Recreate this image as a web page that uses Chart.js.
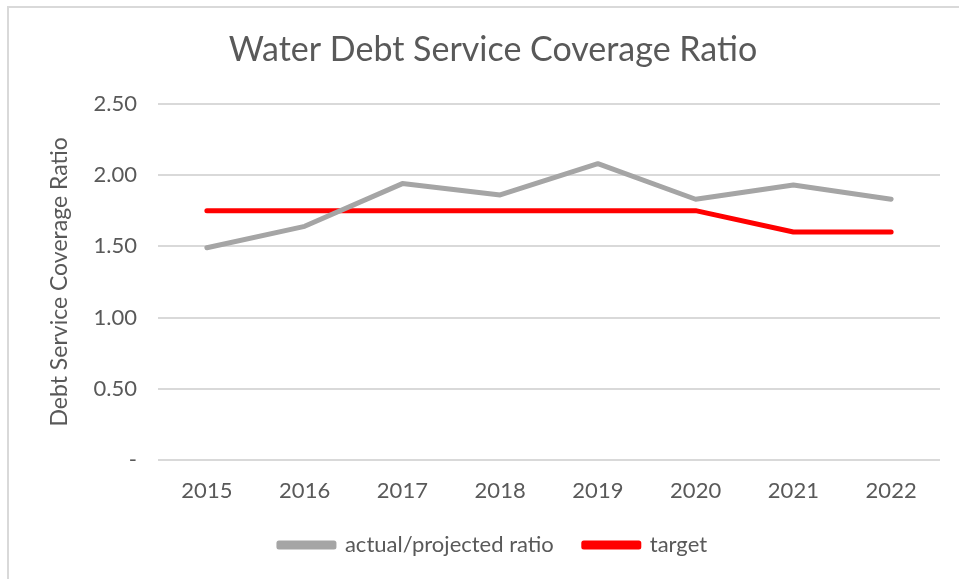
<!DOCTYPE html>
<html>
<head>
<meta charset="utf-8">
<script src="https://cdn.jsdelivr.net/npm/chart.js@4"></script>
<style>
  html, body { margin: 0; padding: 0; background: #fff; }
  body { width: 959px; height: 579px; overflow: hidden; position: relative; }
  #frame { position: absolute; left: 7px; top: 6px; width: 1000px; height: 700px; border: 2px solid #d9d9d9; box-sizing: border-box; }
  #wrap { position: absolute; left: 0; top: 0; width: 959px; height: 579px; }
</style>
</head>
<body>
<div id="frame"></div>
<div id="wrap"><canvas id="dscrChart"></canvas></div>
<script>
const years = ['2015', '2016', '2017', '2018', '2019', '2020', '2021', '2022'];
const actualRatio = [1.49, 1.64, 1.94, 1.86, 2.08, 1.83, 1.93, 1.83];
const targetRatio = [1.75, 1.75, 1.75, 1.75, 1.75, 1.75, 1.60, 1.60];
const yTicks = [0, 0.5, 1.0, 1.5, 2.0, 2.5];

const fontFamily = 'Lato, "Open Sans", sans-serif';
const textColor = '#595959';

const ctx = document.getElementById('dscrChart').getContext('2d');
new Chart(ctx, {
    type: 'line',
    data: {
        labels: years,
        datasets: [{
            label: 'actual/projected ratio',
            data: actualRatio,
            borderColor: '#a5a5a5',
            backgroundColor: '#a5a5a5',
            borderWidth: 5,
            borderCapStyle: 'round',
            borderJoinStyle: 'round',
            pointRadius: 0,
            fill: false,
            tension: 0
        }, {
            label: 'target',
            data: targetRatio,
            borderColor: '#ff0000',
            backgroundColor: '#ff0000',
            borderWidth: 5,
            borderCapStyle: 'round',
            borderJoinStyle: 'round',
            pointRadius: 0,
            fill: false,
            tension: 0
        }]
    },
    options: {
        responsive: true,
        maintainAspectRatio: false,
        animation: false,
        layout: {
            padding: { top: 26, left: 46, right: 19, bottom: 13 }
        },
        plugins: {
            title: {
                display: true,
                text: 'Water Debt Service Coverage Ratio',
                color: textColor,
                font: { family: fontFamily, size: 34, weight: 'normal' },
                padding: { top: 4, bottom: 33 }
            },
            legend: {
                position: 'bottom',
                labels: {
                    color: textColor,
                    font: { family: fontFamily, size: 22 },
                    boxWidth: 55,
                    boxHeight: 4,
                    padding: 30
                }
            },
            tooltip: { enabled: false }
        },
        scales: {
            x: {
                offset: true,
                grid: { display: false, drawTicks: false },
                border: { display: false },
                afterFit: function(scale) {
                    scale.height = 44;
                },
                ticks: {
                    color: textColor,
                    font: { family: fontFamily, size: 22 },
                    padding: 18
                }
            },
            y: {
                min: 0,
                max: 2.5,
                afterBuildTicks: function(scale) {
                    scale.ticks = yTicks.map(v => ({ value: v }));
                },
                afterFit: function(scale) {
                    scale.width = 158 - 46;
                },
                grid: { color: '#d9d9d9', lineWidth: 2, drawTicks: false },
                border: { display: false },
                title: {
                    display: true,
                    text: 'Debt Service Coverage Ratio',
                    color: textColor,
                    font: { family: fontFamily, size: 23 },
                    padding: 0
                },
                ticks: {
                    color: textColor,
                    font: { family: fontFamily, size: 22 },
                    padding: 21,
                    callback: function(value) {
                        return value === 0 ? '-' : value.toFixed(2);
                    }
                }
            }
        }
    }
});
</script>
</body>
</html>
